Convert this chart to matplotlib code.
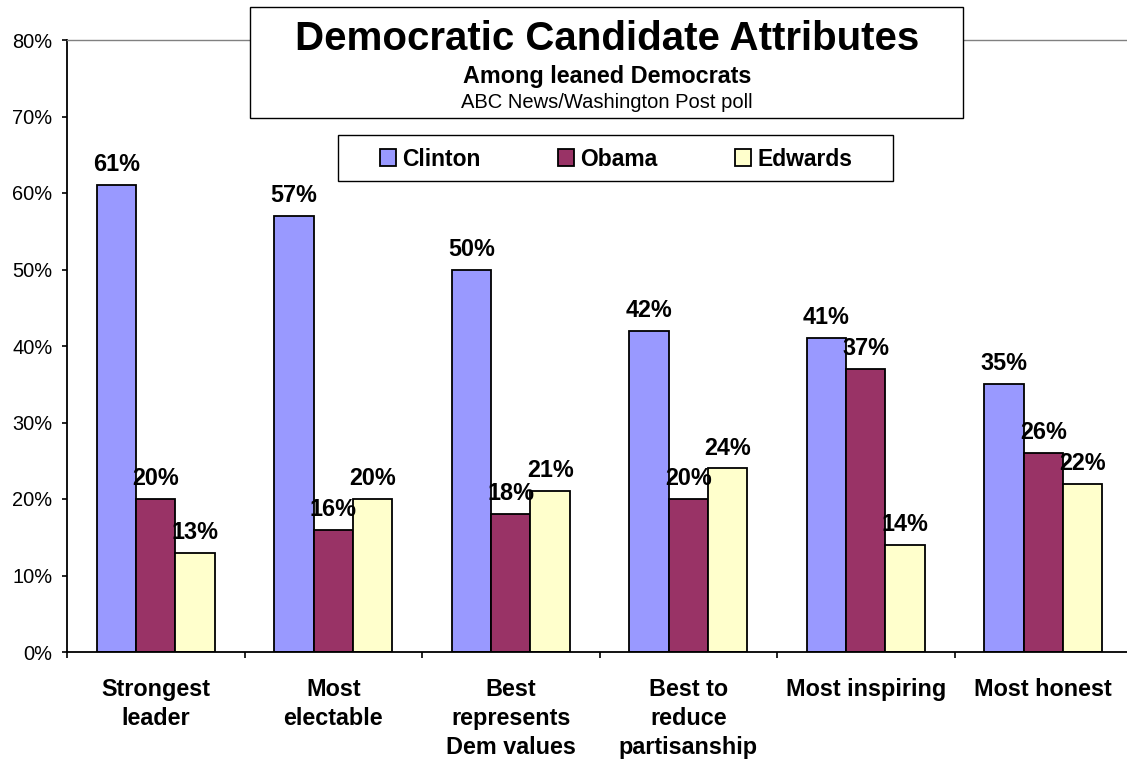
import numpy as np
import matplotlib
matplotlib.use("Agg")
import matplotlib.pyplot as plt
from matplotlib.patches import Rectangle
from matplotlib.ticker import FuncFormatter

plt.rcParams["font.family"] = "Liberation Sans"

# data
categories = ["Strongest\nleader", "Most\nelectable", "Best\nrepresents\nDem values",
              "Best to\nreduce\npartisanship", "Most inspiring", "Most honest"]
candidates = ["Clinton", "Obama", "Edwards"]
clinton = [61, 57, 50, 42, 41, 35]
obama = [20, 16, 18, 20, 37, 26]
edwards = [13, 20, 21, 24, 14, 22]
colors = ["#9999FF", "#993366", "#FFFFCC"]

W, H = 1127, 759


def fx(px):
    return px / W


def fy(py):
    return 1 - py / H


fig = plt.figure(figsize=(W / 100, H / 100), dpi=100)
# axes runs a bit past the right edge like in the original
ax = fig.add_axes([fx(67), fy(652), (1132 - 67) / W, (652 - 40) / H])

x = np.arange(len(categories))
bw = 0.2225
series = [clinton, obama, edwards]
for i, (name, vals) in enumerate(zip(candidates, series)):
    vals = np.array(vals) / 100
    pos = x + (i - 1) * bw
    ax.bar(pos, vals, bw, color=colors[i], edgecolor="black", linewidth=1.3,
           label=name, zorder=2)
    for xp, v in zip(pos, vals):
        ax.annotate(f"{round(v * 100)}%", (xp, v), xytext=(0, 10),
                    textcoords="offset points", ha="center", va="baseline",
                    fontsize=16.8, fontweight="bold")

ax.set_xlim(-0.5, len(categories) - 0.5)
ax.set_ylim(0, 0.8)
ax.set_yticks(np.arange(0, 0.81, 0.1))
ax.yaxis.set_major_formatter(FuncFormatter(lambda v, p: f"{round(v * 100)}%"))
ax.tick_params(axis="y", labelsize=14.4, length=3.6, width=1.2, pad=7)

ax.set_xticks(x)
ax.set_xticklabels(categories, fontsize=16.8, fontweight="bold", linespacing=1.33)
ax.tick_params(axis="x", which="major", length=0, pad=19)
ax.set_xticks(np.arange(-0.5, len(categories)), minor=True)
ax.tick_params(axis="x", which="minor", length=4.5, width=1.2, direction="out")

for s in ["left", "bottom"]:
    ax.spines[s].set_color("black")
    ax.spines[s].set_linewidth(1.3)
ax.spines["top"].set_color("#808080")
ax.spines["top"].set_linewidth(1)
ax.spines["right"].set_visible(False)

# title box
fig.add_artist(Rectangle((fx(250), fy(118)), (963 - 250) / W, (118 - 7) / H,
                         transform=fig.transFigure, facecolor="white",
                         edgecolor="black", linewidth=1, zorder=5))
fig.text(fx(607), fy(50), "Democratic Candidate Attributes", ha="center",
         va="baseline", fontsize=29, fontweight="bold", zorder=6)
fig.text(fx(607), fy(83), "Among leaned Democrats", ha="center",
         va="baseline", fontsize=16.8, fontweight="bold", zorder=6)
fig.text(fx(607), fy(108), "ABC News/Washington Post poll", ha="center",
         va="baseline", fontsize=14.5, zorder=6)

# legend box
fig.add_artist(Rectangle((fx(338), fy(181)), (893 - 338) / W, (181 - 135) / H,
                         transform=fig.transFigure, facecolor="white",
                         edgecolor="black", linewidth=1, zorder=5))
handles, labels = ax.get_legend_handles_labels()
leg = fig.legend(handles, labels, ncol=3, loc="center",
                 bbox_to_anchor=(fx(616), fy(159)), frameon=False,
                 prop={"size": 16.5, "weight": "bold"}, handlelength=0.7,
                 handleheight=0.7, handletextpad=0.3, columnspacing=3.35,
                 borderpad=0)
leg.set_zorder(6)

fig.savefig("out.png", dpi=100)
